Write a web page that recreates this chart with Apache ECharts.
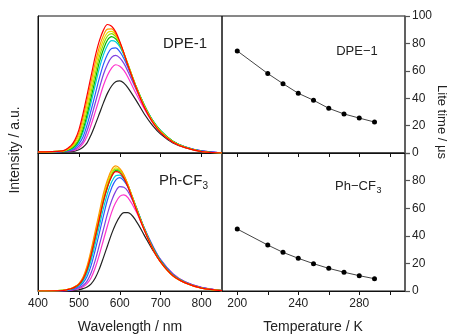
<!DOCTYPE html>
<html><head><meta charset="utf-8">
<script src="https://cdn.jsdelivr.net/npm/echarts@6/dist/echarts.min.js"></script>
<style>html,body{margin:0;padding:0;background:#fff}#c{width:451px;height:336px}</style>
</head><body><div id="c"></div>
<script>
// ---- data ----
const wavelengths = [400,460,480,490,500,510,520,530,540,550,560,570,580,590,600,610,620,640,660,680,700,730,760,800,850];
const curveColors = ['#222222','#ff33cc','#8040e0','#2a5cff','#00ccdd','#00b800','#88dd00','#e6e000','#ff9900','#ff0000'];
// DPE-1 spectra (black ... red)
const dpeBlack   = [0.8,1.0,1.2,1.4,2.4,4.2,7.4,13.4,20.7,28.6,36.6,43.7,48.9,52.0,52.6,51.0,47.6,38.4,28.5,20.2,13.8,7.3,3.9,1.4,0];
const dpeMagenta = [0.8,1.1,1.5,2.1,3.7,6.8,12.3,20.6,30.0,39.7,49.3,56.8,62.0,64.4,63.3,60.3,55.3,43.2,32.1,22.4,15.1,7.9,4.3,1.5,0];
const dpeViolet  = [0.8,1.1,1.8,2.7,5.0,8.6,16.2,25.7,36.5,47.2,57.3,64.8,69.8,71.2,69.4,65.4,59.5,46.3,33.9,23.5,15.9,8.3,4.4,1.5,0];
const dpeBlue    = [0.8,1.2,2.2,3.7,6.6,11.6,20.5,31.4,43.0,54.6,64.7,72.1,76.3,76.7,74.0,69.0,62.4,47.7,34.9,24.0,16.3,8.5,4.5,1.5,0];
const dpeCyan    = [0.8,1.2,2.6,4.5,8.3,14.9,25.1,37.1,49.5,61.9,71.6,78.7,82.0,81.2,77.6,71.4,64.2,48.5,35.1,24.1,16.3,8.6,4.4,1.3,0];
const dpeGreen   = [0.8,1.3,3.0,5.1,9.4,17.0,28.1,40.8,53.6,66.3,75.7,82.5,85.0,83.3,79.1,72.3,64.6,48.5,34.9,23.8,16.2,8.5,4.3,1.3,0];
const dpeLime    = [0.8,1.3,3.5,6.1,10.5,19.8,31.5,44.6,57.8,70.2,79.3,85.4,87.2,84.9,80.0,72.8,64.9,48.5,34.7,23.6,15.9,8.4,4.2,1.1,0];
const dpeYellow  = [0.8,1.4,4.0,7.2,12.5,22.6,34.9,48.3,61.8,73.7,82.5,87.9,88.8,86.1,80.4,72.9,64.8,48.2,34.2,23.3,15.6,8.2,4.1,1.1,0];
const dpeOrange  = [0.8,1.4,4.6,8.2,14.6,25.6,38.4,52.2,65.9,77.4,85.8,90.4,90.6,86.9,80.7,72.8,64.1,47.8,33.7,22.9,15.2,8.1,4.0,1.1,0];
const dpeRed     = [0.8,1.5,5.2,9.4,16.9,28.6,42.3,56.4,70.5,81.8,89.7,93.8,92.5,88.4,81.4,73.1,63.9,47.6,33.3,22.6,14.9,7.9,3.9,1.0,0];
// Ph-CF3 spectra (black ... red)
const cfBlack   = [0,0,0.2,0.5,0.9,1.7,2.9,5.2,9.4,16.0,24.2,32.8,41.4,48.6,53.9,56.8,56.8,50.7,40.3,30.0,21.2,11.8,6.2,2.5,0.3];
const cfMagenta = [0,0,0.5,0.9,1.8,2.9,5.3,9.6,16.8,26.3,36.8,47.3,57.0,64.1,68.6,69.7,67.6,57.7,44.4,32.7,22.6,12.5,6.6,2.6,0.3];
const cfViolet  = [0,0.1,0.6,1.3,2.3,4.0,7.2,13.2,22.2,33.2,44.6,56.1,65.4,72.2,75.6,75.2,72.1,60.0,45.6,33.1,22.7,12.4,6.6,2.5,0.3];
const cfBlue    = [0,0.2,1.0,1.9,3.3,5.8,10.5,18.6,29.7,42.0,54.4,66.1,74.7,80.4,82.1,79.9,75.3,61.0,45.6,32.6,22.2,11.9,6.3,2.4,0.3];
const cfCyan    = [0,0.3,1.3,2.3,4.1,7.2,13.1,22.5,34.3,47.1,59.8,70.8,78.9,83.5,84.0,81.0,75.5,60.2,44.9,31.8,21.6,11.4,6.1,2.2,0.3];
const cfGreen   = [0,0.4,1.5,2.6,4.6,8.4,15.2,25.6,38.3,51.5,64.7,75.4,83.2,87.2,86.8,83.2,76.9,60.7,45.2,31.8,21.6,11.4,6.2,2.2,0.3];
const cfLime    = [0,0.4,1.6,2.8,4.9,8.9,16.0,27.0,40.0,53.3,66.6,77.1,84.7,88.3,87.4,83.5,76.9,60.4,44.9,31.4,21.3,11.2,6.0,2.1,0.3];
const cfYellow  = [0,0.4,1.7,3.0,5.2,9.4,17.0,28.4,41.7,55.1,68.5,78.8,86.2,89.3,88.0,83.8,76.9,60.0,44.6,31.1,21.0,11.0,5.9,2.1,0.3];
const cfOrange  = [0,0.5,1.8,3.2,5.4,10.0,18.1,29.9,43.5,57.1,70.7,80.6,87.9,90.6,88.8,84.3,77.0,59.8,44.4,30.8,20.8,10.9,5.9,2.0,0.3];
const cfRed     = [0,0.3,1.6,2.8,4.8,8.7,15.7,26.4,39.2,52.2,65.3,75.5,83.0,86.5,85.6,81.8,75.3,59.2,44.0,30.8,20.9,11.0,5.9,2.1,0.3];
// lifetimes
const temperatures = [200,220,230,240,250,260,270,280,290];
const dpeLifetime  = [74.5,58.0,50.6,43.6,38.5,32.6,28.5,25.5,22.6];
const cfLifetime   = [44.9,33.3,28.0,23.7,19.8,16.4,13.6,11.1,8.9];
// ticks
const wlTicks = [400,500,600,700,800];
const tTicks = [200,220,240,260,280,300];
const tLabels = [200,240,280];
const lifeTicks = [0,20,40,60,80,100];

const dpeSet = [dpeBlack,dpeMagenta,dpeViolet,dpeBlue,dpeCyan,dpeGreen,dpeLime,dpeYellow,dpeOrange,dpeRed];
const cfSet = [cfBlack,cfMagenta,cfViolet,cfBlue,cfCyan,cfGreen,cfLime,cfYellow,cfOrange,cfRed];

const FONT = 'Liberation Sans, Arial, sans-serif';
const chart = echarts.init(document.getElementById('c'), null, {renderer:'canvas'});

const grids = [
  {left:38, top:16, width:184, height:137},
  {left:38, top:153, width:184, height:138},
  {left:222, top:16, width:183, height:137},
  {left:222, top:153, width:183, height:138}
].map(g => Object.assign(g, {show:true, borderColor:'#111', borderWidth:1, backgroundColor:'transparent'}));

function xAx(gi, min, max, ticks, labels, showLabels){
  return {type:'value', gridIndex:gi, min, max, position:'bottom',
    axisLine:{show:true, onZero:false, lineStyle:{color:'#111', width:1}},
    axisTick:{show:true, inside:false, length:4, customValues:ticks, lineStyle:{color:'#111'}},
    axisLabel:{show:showLabels, customValues:labels, color:'#222', fontSize:12, fontFamily:FONT, margin:7},
    splitLine:{show:false}};
}
function yLeft(gi){
  return {type:'value', gridIndex:gi, min:0, max:100, position:'left',
    axisLine:{show:true, lineStyle:{color:'#111'}}, axisTick:{show:false}, axisLabel:{show:false}, splitLine:{show:false}};
}
function yRight(gi, hideMax){
  return {type:'value', gridIndex:gi, min:0, max:100, position:'right',
    axisLine:{show:true, lineStyle:{color:'#555', width:1.5}},
    axisTick:{show:true, inside:false, length:5, customValues:lifeTicks, lineStyle:{color:'#555', width:1.2}},
    axisLabel:{show:true, customValues: hideMax ? lifeTicks.slice(0,5) : lifeTicks, color:'#222', fontSize:12, fontFamily:FONT, margin:7},
    splitLine:{show:false}};
}

const series = [];
dpeSet.forEach((arr, k) => series.push({type:'line', xAxisIndex:0, yAxisIndex:0, showSymbol:false, smooth:0.35,
  lineStyle:{width:1.2, color:curveColors[k]}, itemStyle:{color:curveColors[k]}, z:2+k,
  data: wavelengths.map((w,i)=>[w, arr[i]])}));
cfSet.forEach((arr, k) => series.push({type:'line', xAxisIndex:1, yAxisIndex:1, showSymbol:false, smooth:0.35,
  lineStyle:{width:1.2, color:curveColors[k]}, itemStyle:{color:curveColors[k]}, z:2+k,
  data: wavelengths.map((w,i)=>[w, arr[i]])}));
series.push({type:'line', xAxisIndex:2, yAxisIndex:2, symbol:'circle', symbolSize:5,
  lineStyle:{width:1, color:'#444'}, itemStyle:{color:'#000'},
  data: temperatures.map((t,i)=>[t, dpeLifetime[i]])});
series.push({type:'line', xAxisIndex:3, yAxisIndex:3, symbol:'circle', symbolSize:5,
  lineStyle:{width:1, color:'#444'}, itemStyle:{color:'#000'},
  data: temperatures.map((t,i)=>[t, cfLifetime[i]])});

const txt = (x, y, text, size, align, extra) => Object.assign({type:'text', x, y,
  style:{text, fontSize:size, fontFamily:FONT, fill:'#222', textAlign:align||'center', textVerticalAlign:'middle'}}, extra||{});

chart.setOption({
  animation:false,
  grid: grids,
  xAxis: [xAx(0,400,850,wlTicks,wlTicks,false), xAx(1,400,850,wlTicks,wlTicks,true),
          xAx(2,190,310,tTicks,tLabels,false), xAx(3,190,310,tTicks,tLabels,true)],
  yAxis: [yLeft(0), yLeft(1), yRight(2,false), yRight(3,true)],
  series,
  graphic: [
    txt(185, 44, 'DPE-1', 15),
    txt(357, 51, 'DPE\u22121', 13),
    txt(159, 181, 'Ph-CF', 15, 'left'),
    txt(202.5, 186, '3', 10, 'left'),
    txt(335, 186, 'Ph\u2212CF', 13, 'left'),
    txt(376.5, 190.5, '3', 9, 'left'),
    txt(130, 327, 'Wavelength / nm', 14),
    txt(313, 327, 'Temperature / K', 14),
    txt(15, 150, 'Intensity / a.u.', 14, 'center', {rotation:Math.PI/2}),
    txt(442, 122, 'Lite time / \u03bcs', 13, 'center', {rotation:-Math.PI/2})
  ]
});
</script></body></html>
